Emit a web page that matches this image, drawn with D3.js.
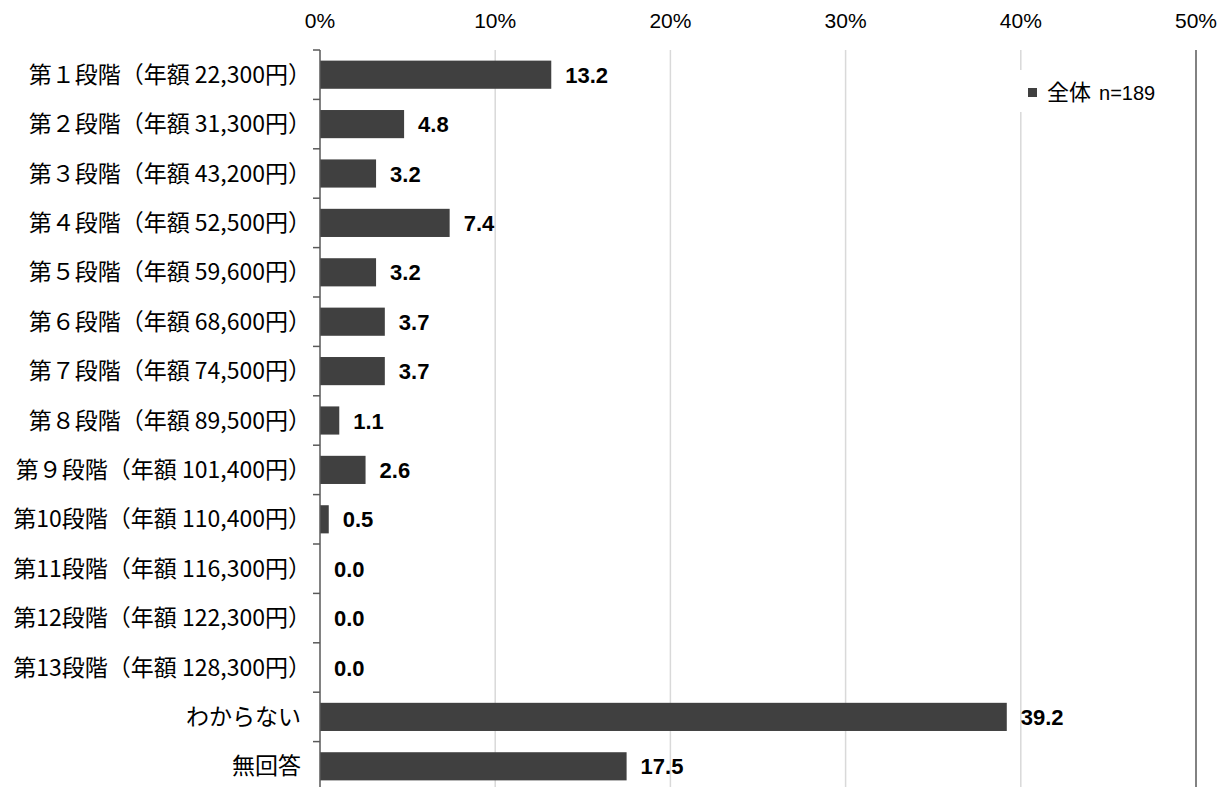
<!DOCTYPE html>
<html><head><meta charset="utf-8">
<script src="https://cdn.jsdelivr.net/npm/d3@7"></script>
<style>
html,body{margin:0;padding:0;background:#fff;}
svg{display:block;}
</style></head>
<body>
<svg id="chart" width="1231" height="787"></svg>
<script>
const categories = [
  "第１段階（年額 22,300円）","第２段階（年額 31,300円）","第３段階（年額 43,200円）",
  "第４段階（年額 52,500円）","第５段階（年額 59,600円）","第６段階（年額 68,600円）",
  "第７段階（年額 74,500円）","第８段階（年額 89,500円）","第９段階（年額 101,400円）",
  "第10段階（年額 110,400円）","第11段階（年額 116,300円）","第12段階（年額 122,300円）",
  "第13段階（年額 128,300円）","わからない","無回答"
];
const values = [13.2,4.8,3.2,7.4,3.2,3.7,3.7,1.1,2.6,0.5,0.0,0.0,0.0,39.2,17.5];
const tickValues = [0,10,20,30,40,50];
const seriesName = "全体";
const seriesN = "n=189";

(function(){
const svg = d3.select("#chart");
const pLeft = 320, pRight = 1196, pTop = 50, step = 49.4;
const x = d3.scaleLinear().domain([0,50]).range([pLeft,pRight]);
const y = d3.scaleBand().domain(categories).range([pTop, pTop + step*categories.length]).paddingInner(0.43).paddingOuter(0.215);

const jp = "'Noto Sans CJK JP','Noto Sans',sans-serif";
const lat = "'Liberation Sans',Arial,sans-serif";

// gridlines
svg.append("g").selectAll("line").data(tickValues.slice(1,-1)).join("line")
  .attr("x1",d=>x(d)).attr("x2",d=>x(d)).attr("y1",pTop).attr("y2",787)
  .attr("stroke","#d9d9d9").attr("stroke-width",1.5);
// right border
svg.append("line").attr("x1",x(50)).attr("x2",x(50)).attr("y1",pTop).attr("y2",787)
  .attr("stroke","#595959").attr("stroke-width",1.5);

// top tick labels
svg.append("g").selectAll("text").data(tickValues).join("text")
  .attr("x",d=>x(d)).attr("y",28).attr("text-anchor","middle")
  .attr("font-family",lat).attr("font-size",21).attr("fill","#000")
  .text(d=>d+"%");

// legend background
svg.append("rect").attr("x",1018).attr("y",70).attr("width",165).attr("height",42).attr("fill","#fff");
svg.append("rect").attr("x",1028).attr("y",88).attr("width",9).attr("height",9).attr("fill","#404040");
const lt = svg.append("text").attr("x",1047).attr("y",100).attr("font-family",jp).attr("fill","#000");
lt.append("tspan").attr("font-size",22).text(seriesName);
lt.append("tspan").attr("font-size",20).attr("font-family",lat).attr("dx",8).text(seriesN);

// bars
svg.append("g").selectAll("rect").data(values).join("rect")
  .attr("x",x(0)).attr("y",(d,i)=>y(categories[i]))
  .attr("width",d=>x(d)-x(0)).attr("height",y.bandwidth())
  .attr("fill","#404040");

// value labels
svg.append("g").selectAll("text").data(values).join("text")
  .attr("x",d=>x(d)+14).attr("y",(d,i)=>y(categories[i])+y.bandwidth()/2+8)
  .attr("font-family",lat).attr("font-weight","bold")
  .attr("font-size",22).attr("fill","#000")
  .text(d=>d.toFixed(1));

// y axis
svg.append("line").attr("x1",pLeft).attr("x2",pLeft).attr("y1",pTop).attr("y2",787).attr("stroke","#595959").attr("stroke-width",1.5);
svg.append("g").selectAll("line").data(d3.range(categories.length+1)).join("line")
  .attr("x1",pLeft-7).attr("x2",pLeft).attr("y1",i=>pTop+i*step).attr("y2",i=>pTop+i*step)
  .attr("stroke","#595959").attr("stroke-width",1.5);

// category labels
svg.append("g").selectAll("text").data(categories).join("text")
  .attr("x",d=>d.endsWith("）") ? 311 : 301).attr("y",d=>y(d)+y.bandwidth()/2+8).attr("text-anchor","end")
  .attr("font-family",jp).attr("font-size",23).attr("fill","#000")
  .text(d=>d);
})();
</script>
</body></html>
